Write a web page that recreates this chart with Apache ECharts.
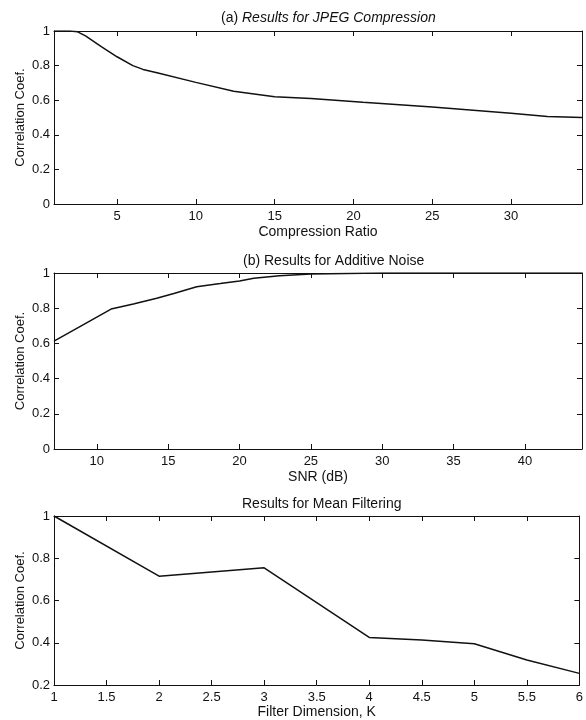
<!DOCTYPE html>
<html>
<head>
<meta charset="utf-8">
<script src="https://cdn.jsdelivr.net/npm/echarts@6/dist/echarts.min.js"></script>
<style>html,body{margin:0;padding:0;background:#fff}#c{width:586px;height:720px}</style>
</head>
<body>
<div id="c"></div>
<script>
// (a) JPEG compression
var compressionRatio = [1, 2, 2.5, 3, 4, 5, 6, 6.65, 7.6, 10, 12.4, 15, 17.3, 20.6, 25, 30, 32.3, 34.5];
var jpegCorr =         [1, 1, 0.995, 0.972, 0.91, 0.851, 0.8, 0.778, 0.757, 0.703, 0.652, 0.62, 0.61, 0.588, 0.56, 0.525, 0.506, 0.5];
var jpegXTicks = [5, 10, 15, 20, 25, 30];
// (b) Additive noise
var snr =       [7, 8.47, 11, 12.56, 14.2, 15.4, 17, 18.65, 20, 21, 22.8, 25, 30, 35, 40, 44];
var noiseCorr = [0.613, 0.68, 0.795, 0.824, 0.856, 0.884, 0.922, 0.94, 0.955, 0.97, 0.985, 0.995, 1, 1, 1, 1];
var noiseXTicks = [10, 15, 20, 25, 30, 35, 40];
// Mean filtering
var filterK =    [1, 2, 3, 4, 4.5, 5, 5.5, 6];
var filterCorr = [1, 0.715, 0.755, 0.425, 0.413, 0.395, 0.318, 0.255];

var FONT = 'Liberation Sans';
var TXT = '#111';

function zip(a, b) { return a.map(function (v, i) { return [v, b[i]]; }); }

var grids = [
  { left: 54, top: 31, width: 528, height: 173 },
  { left: 54, top: 273, width: 528, height: 176 },
  { left: 54, top: 516, width: 527, height: 170 }
];

var lineStyleAxis = { color: '#111', width: 1 };
var tickStyle = { show: true, inside: true, length: 5, lineStyle: { color: '#111', width: 1 } };
var labelStyle = { color: TXT, fontFamily: FONT, fontSize: 13 };

function bottomX(gi, min, max, name, ticks, interval, gap) {
  var ax = {
    type: 'value', gridIndex: gi, min: min, max: max, position: 'bottom',
    name: name, nameLocation: 'middle', nameGap: gap, nameMoveOverlap: false,
    nameTextStyle: { color: TXT, fontFamily: FONT, fontSize: 14 },
    axisLine: { show: true, onZero: false, lineStyle: lineStyleAxis },
    splitLine: { show: false },
    axisTick: Object.assign({}, tickStyle),
    axisLabel: Object.assign({ margin: 6 }, labelStyle)
  };
  if (ticks) {
    ax.axisTick.customValues = ticks;
    ax.axisLabel.customValues = ticks;
  } else {
    ax.interval = interval;
  }
  return ax;
}
function topX(gi, min, max, ticks, interval) {
  var ax = {
    type: 'value', gridIndex: gi, min: min, max: max, position: 'top',
    axisLine: { show: true, onZero: false, lineStyle: lineStyleAxis },
    splitLine: { show: false },
    axisTick: Object.assign({}, tickStyle),
    axisLabel: { show: false }
  };
  if (ticks) { ax.axisTick.customValues = ticks; ax.axisLabel.customValues = ticks; }
  else ax.interval = interval;
  return ax;
}
function leftY(gi, min, max) {
  return {
    type: 'value', gridIndex: gi, min: min, max: max, interval: 0.2, position: 'left',
    name: 'Correlation Coef.', nameLocation: 'middle', nameGap: 27, nameMoveOverlap: false,
    nameTextStyle: { color: TXT, fontFamily: FONT, fontSize: 13 },
    axisLine: { show: true, onZero: false, lineStyle: lineStyleAxis },
    splitLine: { show: false },
    axisTick: tickStyle,
    axisLabel: Object.assign({ margin: 4 }, labelStyle)
  };
}
function rightY(gi, min, max) {
  return {
    type: 'value', gridIndex: gi, min: min, max: max, interval: 0.2, position: 'right',
    axisLine: { show: true, onZero: false, lineStyle: lineStyleAxis },
    splitLine: { show: false },
    axisTick: tickStyle,
    axisLabel: { show: false }
  };
}

var titleFont = { color: TXT, fontFamily: FONT, fontSize: 14, fontWeight: 'normal' };

var option = {
  backgroundColor: '#fff',
  animation: false,
  title: [
    { text: '{n|(a) }{i|Results for JPEG Compression}', left: 216, top: 6,
      textStyle: Object.assign({}, titleFont, { rich: { n: titleFont, i: Object.assign({}, titleFont, { fontStyle: 'italic' }) } }) },
    { text: '(b) Results for Additive Noise', left: 238, top: 249, textStyle: titleFont },
    { text: 'Results for Mean Filtering', left: 237, top: 492, textStyle: titleFont }
  ],
  grid: grids,
  xAxis: [
    bottomX(0, 1, 34.5, 'Compression Ratio', jpegXTicks, null, 21),
    bottomX(1, 7, 44, 'SNR (dB)', noiseXTicks, null, 21),
    bottomX(2, 1, 6, 'Filter Dimension, K', null, 0.5, 20),
    topX(0, 1, 34.5, jpegXTicks),
    topX(1, 7, 44, noiseXTicks),
    topX(2, 1, 6, null, 0.5)
  ],
  yAxis: [
    leftY(0, 0, 1), leftY(1, 0, 1), leftY(2, 0.2, 1),
    rightY(0, 0, 1), rightY(1, 0, 1), rightY(2, 0.2, 1)
  ],
  series: [
    { type: 'line', xAxisIndex: 0, yAxisIndex: 0, data: zip(compressionRatio, jpegCorr),
      showSymbol: false, lineStyle: { color: '#111', width: 1.5 } },
    { type: 'line', xAxisIndex: 1, yAxisIndex: 1, data: zip(snr, noiseCorr),
      showSymbol: false, lineStyle: { color: '#111', width: 1.5 } },
    { type: 'line', xAxisIndex: 2, yAxisIndex: 2, data: zip(filterK, filterCorr),
      showSymbol: false, lineStyle: { color: '#111', width: 1.5 } }
  ]
};

var chart = echarts.init(document.getElementById('c'), null, { renderer: 'canvas' });
chart.setOption(option);
</script>
</body>
</html>
